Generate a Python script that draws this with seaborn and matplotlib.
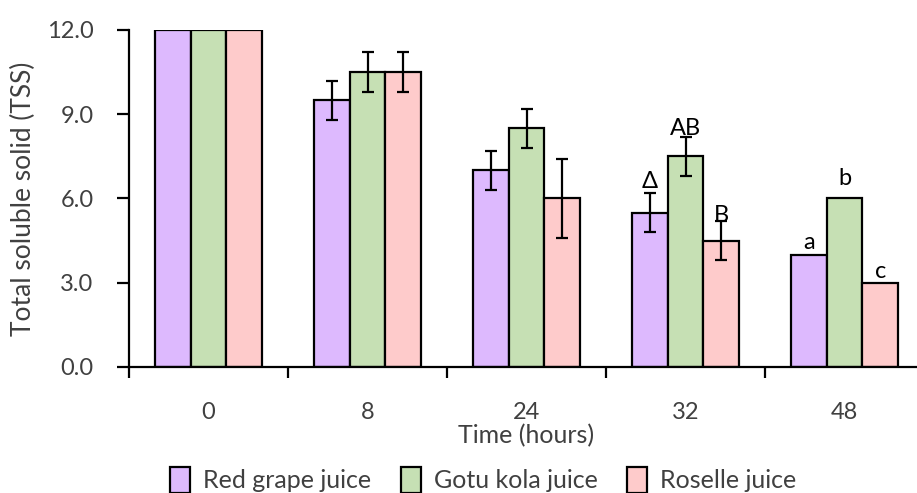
import matplotlib
matplotlib.use("Agg")
import matplotlib.pyplot as plt
import seaborn as sns
import pandas as pd
from matplotlib.patches import Patch

# Storage time points and juice types
times = ["0", "8", "24", "32", "48"]
juices = ["Red grape juice", "Gotu kola juice", "Roselle juice"]

# Mean TSS per juice at each time point
red_grape = [12.0, 9.5, 7.0, 5.5, 4.0]
gotu_kola = [12.0, 10.5, 8.5, 7.5, 6.0]
roselle = [12.0, 10.5, 6.0, 4.5, 3.0]

# Standard deviations (0 = no error bar drawn)
red_grape_sd = [0.0, 0.7, 0.7, 0.7, 0.0]
gotu_kola_sd = [0.0, 0.7, 0.7, 0.7, 0.0]
roselle_sd = [0.0, 0.7, 1.4, 0.7, 0.0]

# Significance letters for the last two time points
letters_32 = ["Δ", "AB", "B"]
letters_48 = ["a", "b", "c"]

colors = ["#DDB9FE", "#C6E0B4", "#FECBCB"]

means = [red_grape, gotu_kola, roselle]
sds = [red_grape_sd, gotu_kola_sd, roselle_sd]

df = pd.DataFrame({
    "time": times * 3,
    "juice": [j for j in juices for _ in times],
    "tss": red_grape + gotu_kola + roselle,
})

sns.set_style("white")
plt.rcParams["font.family"] = ["Lato", "DejaVu Sans"]
text_color = "#404040"

fig = plt.figure(figsize=(9.17, 4.93), dpi=100)
ax = fig.add_axes([0.1407, 0.2556, 0.867, 0.6836])

sns.barplot(data=df, x="time", y="tss", hue="juice", order=times,
            hue_order=juices, palette=colors, errorbar=None,
            width=0.675, edgecolor="black", linewidth=1.6,
            saturation=1, legend=False, ax=ax)

bar_patches = list(ax.patches)


def bar_center(k, i):
    p = bar_patches[k * len(times) + i]
    return p.get_x() + p.get_width() / 2


# Error bars placed at the centres of the drawn bars
for k in range(len(juices)):
    for i in range(len(times)):
        if sds[k][i] > 0:
            ax.errorbar(bar_center(k, i), means[k][i], yerr=sds[k][i],
                        fmt="none", ecolor="black", elinewidth=1.6,
                        capsize=4.5, capthick=1.6, zorder=5)

# Letters above bars (height above the bar's mean)
letter_offsets_32 = [1.1, 1.0, 0.9]
letter_offsets_48 = [0.45, 0.7, 0.4]
for k in range(len(juices)):
    for i, letters, offs in ((3, letters_32, letter_offsets_32),
                             (4, letters_48, letter_offsets_48)):
        ax.text(bar_center(k, i), means[k][i] + offs[k], letters[k],
                ha="center", va="center", fontsize=17, color="black",
                zorder=6)

ax.set_ylim(0, 12)
ax.set_xlim(-0.5, 4.5)
ax.set_yticks([0, 3, 6, 9, 12])
ax.set_yticklabels([f"{v:.1f}" for v in [0, 3, 6, 9, 12]])

# Category labels at centres, tick marks at boundaries
ax.set_xticks(range(len(times)))
ax.set_xticklabels(times)
ax.tick_params(axis="x", which="major", bottom=False, length=0, pad=25,
               labelsize=17, labelcolor=text_color)
ax.set_xticks([i - 0.5 for i in range(len(times) + 1)], minor=True)
ax.tick_params(axis="x", which="minor", bottom=True, length=8, width=1.6,
               color="black", direction="out")
ax.tick_params(axis="y", left=True, length=8.5, width=1.6, color="black",
               direction="out", labelsize=17, labelcolor=text_color, pad=17)

for side in ["top", "right"]:
    ax.spines[side].set_visible(False)
for side in ["left", "bottom"]:
    ax.spines[side].set_linewidth(1.6)
    ax.spines[side].set_color("black")

ax.set_xlabel("Time (hours)", fontsize=18, color=text_color, labelpad=1)
ax.set_ylabel("Total soluble solid (TSS)", fontsize=19, color=text_color,
              labelpad=8)

handles = [Patch(facecolor=c, edgecolor="black", linewidth=1.6) for c in colors]
fig.legend(handles, juices, loc="lower center", ncol=3, frameon=False,
           bbox_to_anchor=(0.527, -0.045), fontsize=18, handlelength=0.8,
           handleheight=1.2, columnspacing=1.2, handletextpad=0.5,
           labelcolor=text_color)

fig.savefig("out.png", dpi=100)
